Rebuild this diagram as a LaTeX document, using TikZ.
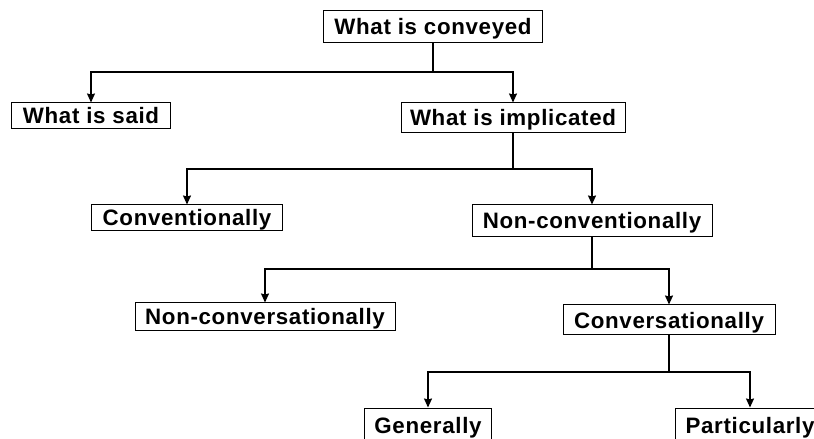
\documentclass[tikz,border=0pt]{standalone}
\usepackage{fontspec}
\setmainfont{Liberation Sans}[LetterSpace=3]
\usetikzlibrary{arrows.meta}
\begin{document}
\begin{tikzpicture}[x=1bp,y=-1bp,
  box/.style={draw, line width=1bp, inner sep=0pt, text height=16bp, text depth=0bp,
    font=\fontsize{22.4}{26}\selectfont\bfseries, anchor=center},
  link/.style={line width=1.4bp},
  arr/.style={link, -{Stealth[length=9bp,width=8bp,inset=1bp]}}]
\useasboundingbox (0,0) rectangle (814,439);
\node[box, minimum width=219bp, minimum height=32bp] (conv) at (433,27) {What is conveyed};
\node[box, minimum width=158bp, minimum height=26bp] (said) at (91,116) {What is said};
\node[box, minimum width=224bp, minimum height=30bp] (impl) at (513,118) {What is implicated};
\node[box, minimum width=191bp, minimum height=26bp] (cvl) at (187,218) {Conventionally};
\node[box, minimum width=240bp, minimum height=32bp] (ncvl) at (592,221) {Non-conventionally};
\node[box, minimum width=260bp, minimum height=28bp] (ncvs) at (265,317) {Non-conversationally};
\node[box, minimum width=212bp, minimum height=30bp] (cvs) at (669,320) {Conversationally};
\node[box, minimum width=127bp, minimum height=34bp] (gen) at (428,425) {Generally};
\node[box, minimum width=150bp, minimum height=34bp] (part) at (750,425) {Particularly};
\coordinate (j1) at (433,72);
\coordinate (j2) at (513,169);
\coordinate (j3) at (592,269);
\coordinate (j4) at (669,372);
\draw[link] (conv) -- (j1);
\draw[arr] (j1) -| (said);
\draw[arr] (j1) -| (impl);
\draw[link] (impl) -- (j2);
\draw[arr] (j2) -| (cvl);
\draw[arr] (j2) -| (ncvl);
\draw[link] (ncvl) -- (j3);
\draw[arr] (j3) -| (ncvs);
\draw[arr] (j3) -| (cvs);
\draw[link] (cvs) -- (j4);
\draw[arr] (j4) -| (gen);
\draw[arr] (j4) -| (part);
\end{tikzpicture}
\end{document}
